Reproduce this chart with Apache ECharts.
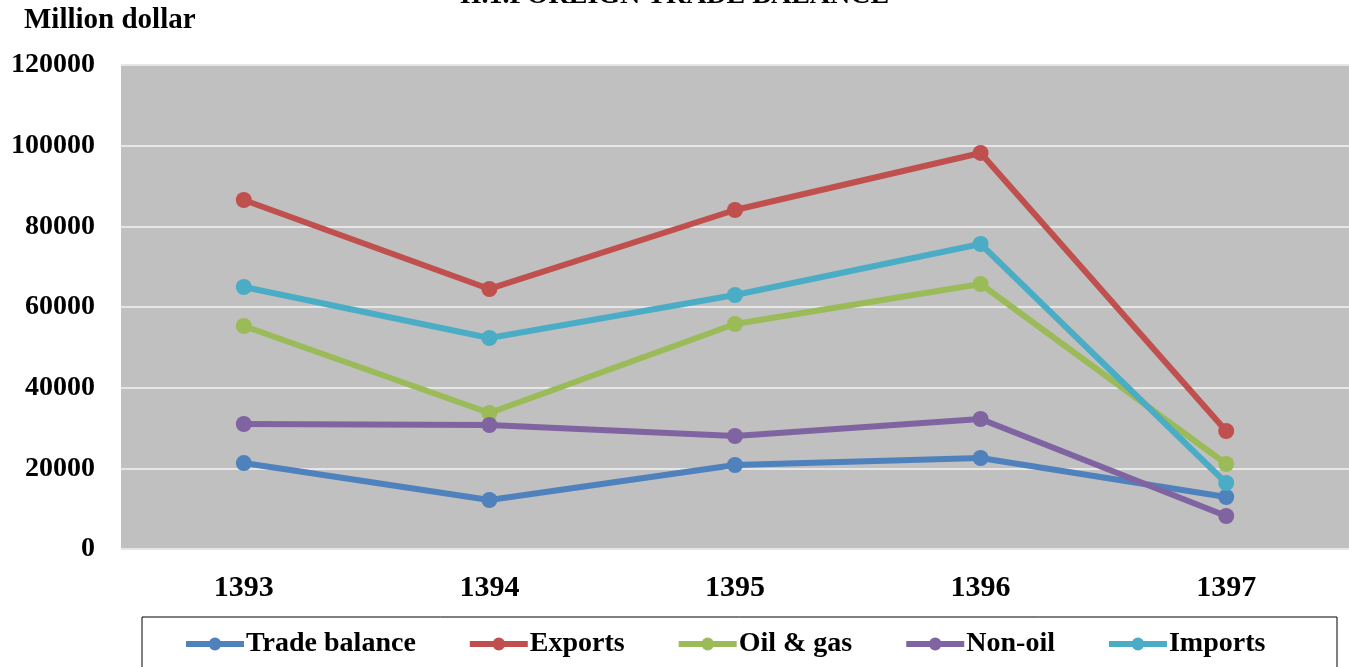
<!DOCTYPE html>
<html><head><meta charset="utf-8">
<script src="https://cdn.jsdelivr.net/npm/echarts@6/dist/echarts.min.js"></script>
<style>html,body{margin:0;padding:0;background:#fff}#c{width:1349px;height:667px}</style>
</head><body><div id="c"></div>
<script>
const categories = ['1393','1394','1395','1396','1397'];
const tradeBalance = [21300, 12150, 20830, 22560, 12890];
const exportsV = [86530, 64470, 84050, 98190, 29260];
const oilGas = [55290, 33720, 55790, 65700, 21080];
const nonOil = [30990, 30750, 28020, 32230, 8180];
const importsV = [64960, 52320, 62980, 75620, 16360];
const seriesNames = ['Trade balance','Exports','Oil & gas','Non-oil','Imports'];
const colors = ['#4F81BD','#C0504D','#9BBB59','#8064A2','#4BACC6'];
const font = '"Liberation Serif","Times New Roman",serif';
const chart = echarts.init(document.getElementById('c'));
const data = [tradeBalance, exportsV, oilGas, nonOil, importsV];
chart.setOption({
  animation:false,
  title:{text:'II.1.FOREIGN TRADE BALANCE',left:'center',top:-23,textStyle:{fontFamily:font,fontWeight:'bold',fontSize:28,color:'#000'}},
  graphic:[{type:'rect',shape:{x:142,y:617,width:1195,height:60},style:{fill:'none',stroke:'#000',lineWidth:1}},
    {type:'text',left:24,top:6,style:{text:'Million dollar',font:'bold 29px '+font,fill:'#000'}}],
  grid:{left:121,right:-2,top:65,bottom:118,backgroundColor:'#C0C0C0',show:true,borderWidth:0},
  legend:{top:630,left:183,padding:0,itemWidth:58,itemHeight:16,itemGap:51,
    lineStyle:{width:6},
    data:seriesNames,textStyle:{fontFamily:font,fontWeight:'bold',fontSize:28,color:'#000',padding:[0,0,0,-3]}},
  xAxis:{type:'category',data:categories,boundaryGap:true,axisLine:{show:false},axisTick:{show:false},
    axisLabel:{fontFamily:font,fontWeight:'bold',fontSize:30,color:'#000',margin:24}},
  yAxis:{type:'value',min:0,max:120000,interval:20000,axisLine:{show:false},axisTick:{show:false},
    splitLine:{lineStyle:{color:'#E6E6E6',width:2}},
    axisLabel:{fontFamily:font,fontWeight:'bold',fontSize:28,color:'#000',margin:26,formatter:v=>String(v)}},
  series:seriesNames.map((n,i)=>({name:n,type:'line',data:data[i],symbol:'circle',symbolSize:16,
    lineStyle:{width:6,color:colors[i]},itemStyle:{color:colors[i]}}))
});
</script></body></html>
